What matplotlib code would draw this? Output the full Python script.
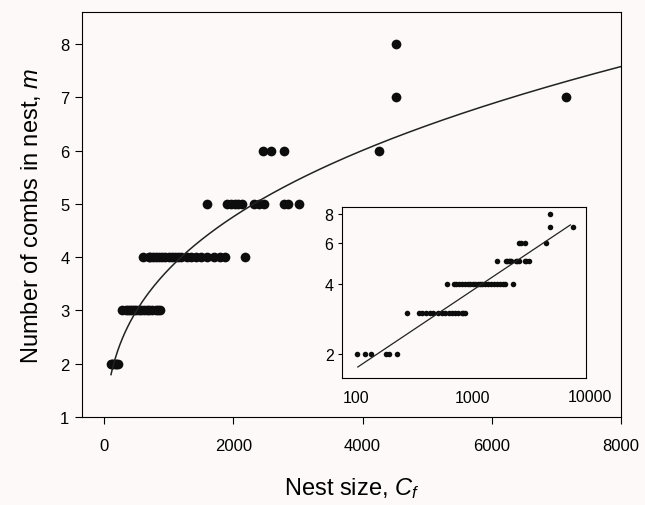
import numpy as np
import matplotlib
matplotlib.use("Agg")
import matplotlib.pyplot as plt
import matplotlib.transforms as mtransforms

plt.rcParams['font.family'] = ['Liberation Sans', 'DejaVu Sans']
plt.rcParams['mathtext.fontset'] = 'custom'
plt.rcParams['mathtext.it'] = 'Liberation Sans:italic'
plt.rcParams['mathtext.rm'] = 'Liberation Sans'

# nest size (cells) for each number of combs
size_m2 = [103, 119, 136, 180, 191, 224]
size_m3 = [273, 345, 370, 400, 430, 460, 500, 540, 580, 620, 660, 700, 750, 800, 830, 860]
size_m4 = [600, 690, 720, 760, 800, 850, 900, 950, 1000, 1050, 1100, 1150, 1200,
           1280, 1350, 1420, 1500, 1600, 1700, 1800, 1880, 2190]
size_m5 = [1600, 1900, 1960, 2020, 2080, 2130, 2320, 2400, 2480, 2780, 2850, 3020]
size_m6 = [2460, 2590, 2790, 4250]
size_m7 = [4520, 7150]
size_m8 = [4520]

groups = [(2, size_m2), (3, size_m3), (4, size_m4), (5, size_m5),
          (6, size_m6), (7, size_m7), (8, size_m8)]
sizes = np.concatenate([np.array(s, float) for m, s in groups])
combs = np.concatenate([np.full(len(s), m, float) for m, s in groups])

# power-law fit m = a * C^b
fit_a = 0.37
fit_b = 0.336

bg = '#fcf9f8'
fig = plt.figure(figsize=(6.45, 5.06), dpi=100, facecolor=bg)

ax = fig.add_axes([0.127, 0.174, 0.836, 0.800], facecolor=bg)
ax.plot(sizes, combs, 'o', color='#0d0d0d', ms=7, mec='none')
cc = np.linspace(110, 8000, 400)
ax.plot(cc, fit_a * cc ** fit_b, color='#222222', lw=1.1)
ax.set_xlim(-340, 8000)
ax.set_ylim(1, 8.6)
ax.set_xticks([0, 2000, 4000, 6000, 8000])
ax.set_yticks(range(1, 9))
ax.tick_params(direction='out', length=5, width=0.8, labelsize=12, pad=4)
ax.tick_params(axis='x', pad=10)
for sp in ax.spines.values():
    sp.set_linewidth(0.8)
ax.set_xlabel(r'Nest size, $C_f$', fontsize=17, labelpad=16)
ax.set_ylabel(r'Number of combs in nest, $m$', fontsize=17, labelpad=12)

# inset on log-log axes
ins = fig.add_axes([0.530, 0.251, 0.379, 0.338], facecolor=bg)
ins.set_xscale('log')
ins.set_yscale('log')
ins.plot(sizes, combs, 'o', color='#0d0d0d', ms=4, mec='none')
ci = np.linspace(104, 6800, 300)
ins.plot(ci, fit_a * ci ** fit_b, color='#222222', lw=0.9)
ins.set_xlim(76, 9300)
ins.set_ylim(1.58, 8.57)
ins.set_xticks([100, 1000])
ins.set_xticklabels(['100', '1000'])
ins.set_yticks([2, 4, 6, 8])
ins.set_yticklabels(['2', '4', '6', '8'])
ins.minorticks_off()
ins.tick_params(axis='x', length=0, labelsize=11.5, pad=9)
ins.tick_params(axis='y', direction='out', length=3, width=0.8, labelsize=11.5, pad=3)
trans = mtransforms.blended_transform_factory(ins.transData, ins.transAxes)
ins.text(10000, -0.065, '10000', transform=trans, ha='center', va='top',
         fontsize=11.5, clip_on=False)
for sp in ins.spines.values():
    sp.set_linewidth(0.8)

fig.savefig('out.png', dpi=100, facecolor=bg)
